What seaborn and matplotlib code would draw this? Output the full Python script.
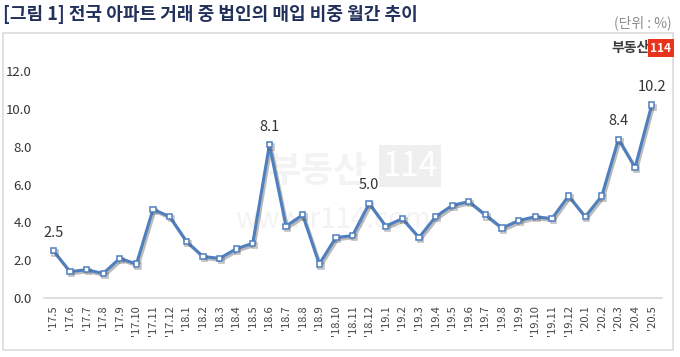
import matplotlib
matplotlib.use("Agg")
import matplotlib.pyplot as plt
import matplotlib.patheffects as pe
from matplotlib.patches import Rectangle
import seaborn as sns
import pandas as pd

# 월별 법인 매입 비중 (%)
months = ["'17.5", "'17.6", "'17.7", "'17.8", "'17.9", "'17.10", "'17.11", "'17.12",
          "'18.1", "'18.2", "'18.3", "'18.4", "'18.5", "'18.6", "'18.7", "'18.8",
          "'18.9", "'18.10", "'18.11", "'18.12",
          "'19.1", "'19.2", "'19.3", "'19.4", "'19.5", "'19.6", "'19.7", "'19.8",
          "'19.9", "'19.10", "'19.11", "'19.12",
          "'20.1", "'20.2", "'20.3", "'20.4", "'20.5"]
share = [2.5, 1.4, 1.5, 1.3, 2.1, 1.8, 4.7, 4.3,
         3.0, 2.2, 2.1, 2.6, 2.9, 8.1, 3.8, 4.4, 1.8, 3.2, 3.3, 5.0,
         3.8, 4.2, 3.2, 4.3, 4.9, 5.1, 4.4, 3.7, 4.1, 4.3, 4.2, 5.4,
         4.3, 5.4, 8.4, 6.9, 10.2]
labeled = ["'17.5", "'18.6", "'18.12", "'20.3", "'20.5"]
yticks = [0, 2, 4, 6, 8, 10, 12]

df = pd.DataFrame({"month": months, "share": share})

sns.set_theme(style="white")
plt.rcParams['font.family'] = ['Noto Sans CJK KR', 'DejaVu Sans']

line_color = '#4F7FBF'
fig = plt.figure(figsize=(6.8, 3.57), dpi=100)
ax = fig.add_axes([0.065, 0.165, 0.908, 0.636])
ax.set_zorder(2)
ax.set_facecolor('none')

# 워터마크 (아주 옅게, 축 뒤에)
fig.text(0.54, 0.52, "부동산", fontsize=26, fontweight='bold', color='#f3f3f3',
         ha='right', va='center', zorder=0)
fig.text(0.562, 0.535, "114", fontsize=24, color='white', ha='left', va='center', zorder=0,
         bbox=dict(boxstyle='square,pad=0.1', facecolor='#efefef', edgecolor='none'))
fig.text(0.49, 0.385, "www.r114.com", fontsize=20, color='#f3f3f3',
         ha='center', va='center', zorder=0)

sns.pointplot(data=df, x="month", y="share", ax=ax, color=line_color,
              marker='s', markersize=3.8, markerfacecolor='white',
              markeredgecolor=line_color, markeredgewidth=1.1, linewidth=2.2)
for ln in ax.lines:
    ln.set_path_effects([pe.SimpleLineShadow(offset=(1.2, -1.5), shadow_color='#555555', alpha=0.4),
                         pe.Normal()])

for m in labeled:
    i = months.index(m)
    ax.annotate(f"{share[i]:.1f}", (i, share[i]), xytext=(0, 8), textcoords='offset points',
                ha='center', va='bottom', fontsize=10.5, color='#333333')

ax.set_ylim(0, 12)
ax.set_xlim(-0.55, len(months) - 0.4)
ax.set_yticks(yticks)
ax.set_yticklabels([f"{v:.1f}" for v in yticks], fontsize=9.5, color='#333333')
ax.tick_params(axis='x', labelrotation=90, labelsize=8, colors='#444444', length=0, pad=5)
ax.tick_params(axis='y', length=0, pad=9)
ax.set_xlabel("")
ax.set_ylabel("")
for s in ['top', 'right', 'left']:
    ax.spines[s].set_visible(False)
ax.spines['bottom'].set_color('#d9d9d9')
ax.spines['bottom'].set_linewidth(1.2)

# 제목, 단위, 테두리
fig.text(0.005, 1 - 14 / 357, "[그림 1] 전국 아파트 거래 중 법인의 매입 비중 월간 추이",
         fontsize=13, fontweight='bold', color='#22305c', ha='left', va='center')
fig.text(0.988, 1 - 23 / 357, "(단위 : %)", fontsize=10, color='#8c8c8c',
         ha='right', va='center')
fig.patches.append(Rectangle((3 / 680, 1 - 350 / 357), 670 / 680, 317 / 357,
                             transform=fig.transFigure, fill=False,
                             edgecolor='#dcdcdc', linewidth=1.2))

# 로고
fig.text(0.955, 1 - 48 / 357, "부동산", fontsize=10, fontweight='bold', color='#3c3c3c',
         ha='right', va='center')
fig.text(0.972, 1 - 48 / 357, "114", fontsize=8.5, fontweight='bold', color='white',
         ha='center', va='center',
         bbox=dict(boxstyle='square,pad=0.25', facecolor='#e8341c', edgecolor='none'))

fig.savefig("out.png", dpi=100)
